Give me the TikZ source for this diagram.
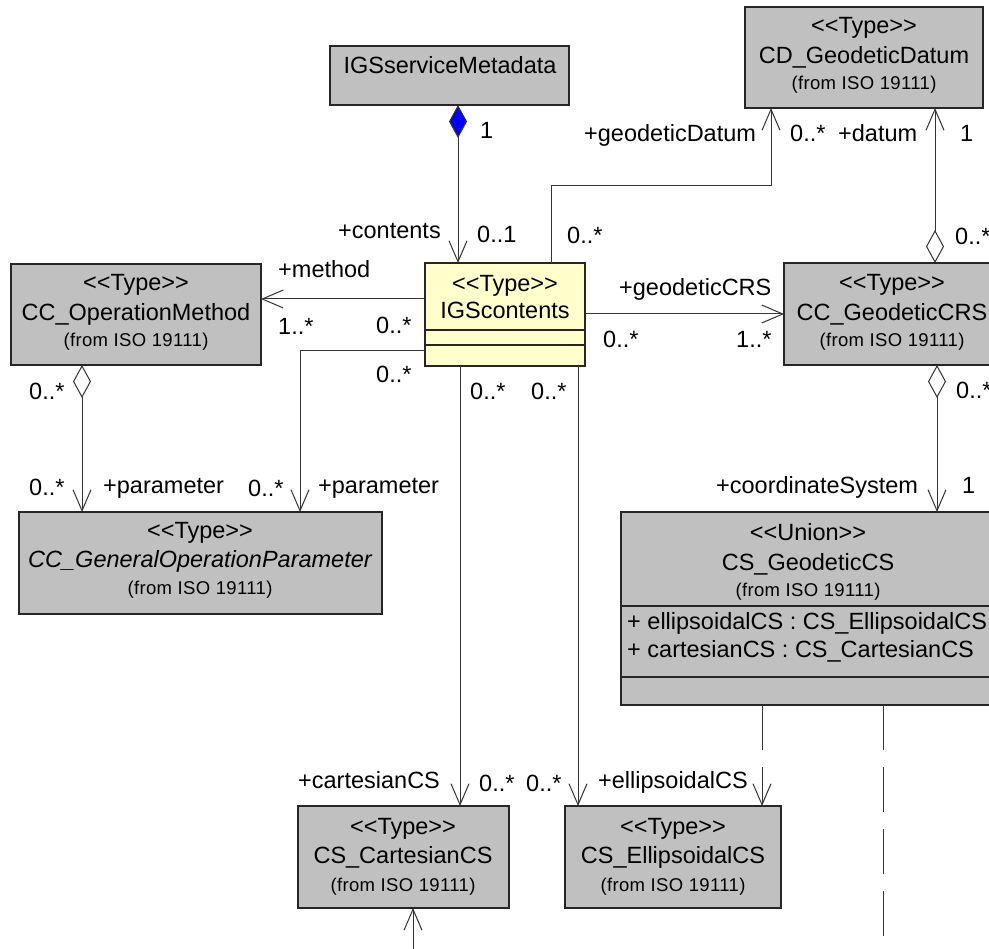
\documentclass[tikz,border=0pt]{standalone}
\usepackage{fontspec}
\newfontfamily\umlfont{Liberation Sans}
\newfontfamily\umlsmallfont{Liberation Sans}[LetterSpace=2]
\usetikzlibrary{arrows.meta}
\definecolor{boxgray}{HTML}{C0C0C0}
\definecolor{boxyellow}{HTML}{FFFFCC}
\definecolor{compblue}{HTML}{0000FF}
\begin{document}
\begin{tikzpicture}[x=1pt,y=-1pt,
  font=\umlfont\fontsize{23.5}{28}\selectfont,
  umlbox/.style={draw=black!85, line width=1.3pt, fill=boxgray, inner sep=0pt, outer sep=0pt, anchor=north west},
  nm/.style={anchor=base, inner sep=0pt},
  src/.style={anchor=base, inner sep=0pt, font=\umlsmallfont\fontsize{18.5}{22}\selectfont},
  lbl/.style={anchor=base west, inner sep=0pt},
  assoc/.style={draw=black!80, line width=1pt, arrows={-{Straight Barb[length=21pt,width=18pt]}}},
  agg/.style={draw=black!80, line width=1pt, arrows={{Diamond[open,length=33pt,width=18pt]}-{Straight Barb[length=21pt,width=18pt]}}},
  comp/.style={draw=black!80, line width=1pt, arrows={{Diamond[fill=compblue,length=33pt,width=18pt]}-{Straight Barb[length=21pt,width=18pt]}}},
  dep/.style={draw=black!80, line width=1pt, dash pattern=on 45pt off 17pt},
]
\path[use as bounding box, clip] (0,0) rectangle (989,949);
\fill[white] (0,0) rectangle (989,949);

% class boxes
\node[umlbox, minimum width=239pt, minimum height=59pt] (meta) at (330,46) {};
\node[umlbox, minimum width=238pt, minimum height=101pt] (cd) at (745,7) {};
\node[umlbox, minimum width=250pt, minimum height=101pt] (om) at (11,264) {};
\node[umlbox, fill=boxyellow, minimum width=160pt, minimum height=103pt] (igs) at (425,263) {};
\node[umlbox, minimum width=218pt, minimum height=102pt] (crs) at (784,263) {};
\node[umlbox, minimum width=363pt, minimum height=102pt] (gop) at (19,512) {};
\node[umlbox, minimum width=374pt, minimum height=193pt] (gcs) at (621,512) {};
\node[umlbox, minimum width=211pt, minimum height=102pt] (cart) at (298,806) {};
\node[umlbox, minimum width=216pt, minimum height=102pt] (ell) at (565,806) {};

% compartment separators
\draw[draw=black!85, line width=1.1pt] ([yshift=-67pt]igs.north west) -- ([yshift=-67pt]igs.north east);
\draw[draw=black!85, line width=1.1pt] ([yshift=-82pt]igs.north west) -- ([yshift=-82pt]igs.north east);
\draw[draw=black!85, line width=1.1pt] ([yshift=-94pt]gcs.north west) -- ([yshift=-94pt]gcs.north east);
\draw[draw=black!85, line width=1.1pt] ([yshift=-165pt]gcs.north west) -- ([yshift=-165pt]gcs.north east);

% box texts
\node[nm] (meta-n) at (450,74) {IGSserviceMetadata};

\node[nm] (cd-s) at (864,34) {<<Type>>};
\node[nm] (cd-n) at (864,64) {CD\_GeodeticDatum};
\node[src] (cd-f) at (864,90) {(from ISO 19111)};

\node[nm] (om-s) at (136,291) {<<Type>>};
\node[nm] (om-n) at (136,321) {CC\_OperationMethod};
\node[src] (om-f) at (136,347) {(from ISO 19111)};

\node[nm] (igs-s) at (505,292) {<<Type>>};
\node[nm] (igs-n) at (505,319) {IGScontents};

\node[nm] (crs-s) at (892,291) {<<Type>>};
\node[nm] (crs-n) at (892,321) {CC\_GeodeticCRS};
\node[src] (crs-f) at (892,347) {(from ISO 19111)};

\node[nm] (gop-s) at (200,539) {<<Type>>};
\node[nm] (gop-n) at (200,568) {\itshape CC\_GeneralOperationParameter};
\node[src] (gop-f) at (200,595) {(from ISO 19111)};

\node[nm] (gcs-s) at (808,541) {<<Union>>};
\node[nm] (gcs-n) at (808,571) {CS\_GeodeticCS};
\node[src] (gcs-f) at (808,597) {(from ISO 19111)};
\node[lbl] (gcs-a1) at (627,630) {+ ellipsoidalCS : CS\_EllipsoidalCS};
\node[lbl] (gcs-a2) at (627,657) {+ cartesianCS : CS\_CartesianCS};

\node[nm] (cart-s) at (403,834) {<<Type>>};
\node[nm] (cart-n) at (403,863) {CS\_CartesianCS};
\node[src] (cart-f) at (403,891) {(from ISO 19111)};

\node[nm] (ell-s) at (673,834) {<<Type>>};
\node[nm] (ell-n) at (673,863) {CS\_EllipsoidalCS};
\node[src] (ell-f) at (673,891) {(from ISO 19111)};

% free ends of connectors leaving the picture
\coordinate (gcsout) at (883,949);
\coordinate (cartin) at (413,949);

% connectors
\draw[comp] ([xshift=128pt]meta.south west) -- ([xshift=33pt]igs.north west);
\draw[assoc] ([yshift=-36pt]igs.north west) -- ([yshift=-35pt]om.north east);
\draw[assoc] ([yshift=-88pt]igs.north west) -| ([xshift=281pt]gop.north west);
\draw[agg] ([xshift=71pt]om.south west) -- ([xshift=63pt]gop.north west);
\draw[assoc] ([xshift=126pt]igs.north west) |- ([xshift=26pt,yshift=-78pt]cd.south west) -- ([xshift=26pt]cd.south west);
\draw[agg] ([xshift=151pt]crs.north west) -- ([xshift=190pt]cd.south west);
\draw[assoc] ([yshift=-51pt]igs.north east) -- ([yshift=-51pt]crs.north west);
\draw[agg] ([xshift=153pt]crs.south west) -- ([xshift=316pt]gcs.north west);
\draw[assoc] ([xshift=35pt]igs.south west) -- ([xshift=162pt]cart.north west);
\draw[assoc] ([xshift=153pt]igs.south west) -- ([xshift=13pt]ell.north west);
\draw[assoc, dep] ([xshift=141pt]gcs.south west) -- ([xshift=197pt]ell.north west);
\draw[dep] ([xshift=262pt]gcs.south west) -- (gcsout);
\draw[assoc] (cartin) -- ([xshift=115pt]cart.south west);

% role names and multiplicities
\node[lbl] (m-1) at (480,139) {1};
\node[lbl] (m-contents) at (338,239) {+contents};
\node[lbl] (m-01) at (477,243) {0..1};
\node[lbl] (m-method) at (278,278) {+method};
\node[lbl] (m-om1) at (278,335) {1..*};
\node[lbl] (m-om0) at (376,334) {0..*};
\node[lbl] (m-gp0) at (376,383) {0..*};
\node[lbl] (m-agg0) at (29,400) {0..*};
\node[lbl] (m-agg1) at (29,496) {0..*};
\node[lbl] (m-par1) at (103,494) {+parameter};
\node[lbl] (m-gp1) at (248,497) {0..*};
\node[lbl] (m-par2) at (318,494) {+parameter};
\node[lbl] (m-cs0) at (470,400) {0..*};
\node[lbl] (m-es0) at (531,400) {0..*};
\node[lbl] (m-gdatum) at (584,142) {+geodeticDatum};
\node[lbl] (m-gd0) at (790,142) {0..*};
\node[lbl] (m-datum) at (838,142) {+datum};
\node[lbl] (m-d1) at (960,142) {1};
\node[lbl] (m-igsd) at (567,244) {0..*};
\node[lbl] (m-crsd) at (955,245) {0..*};
\node[lbl] (m-gcrs) at (619,296) {+geodeticCRS};
\node[lbl] (m-gc0) at (603,348) {0..*};
\node[lbl] (m-gc1) at (736,348) {1..*};
\node[lbl] (m-crs0) at (956,399) {0..*};
\node[lbl] (m-csys) at (716,494) {+coordinateSystem};
\node[lbl] (m-cs1) at (962,494) {1};
\node[lbl] (m-cart) at (298,788) {+cartesianCS};
\node[lbl] (m-cart0) at (479,791) {0..*};
\node[lbl] (m-ell0) at (526,791) {0..*};
\node[lbl] (m-ell) at (598,788) {+ellipsoidalCS};
\end{tikzpicture}
\end{document}
